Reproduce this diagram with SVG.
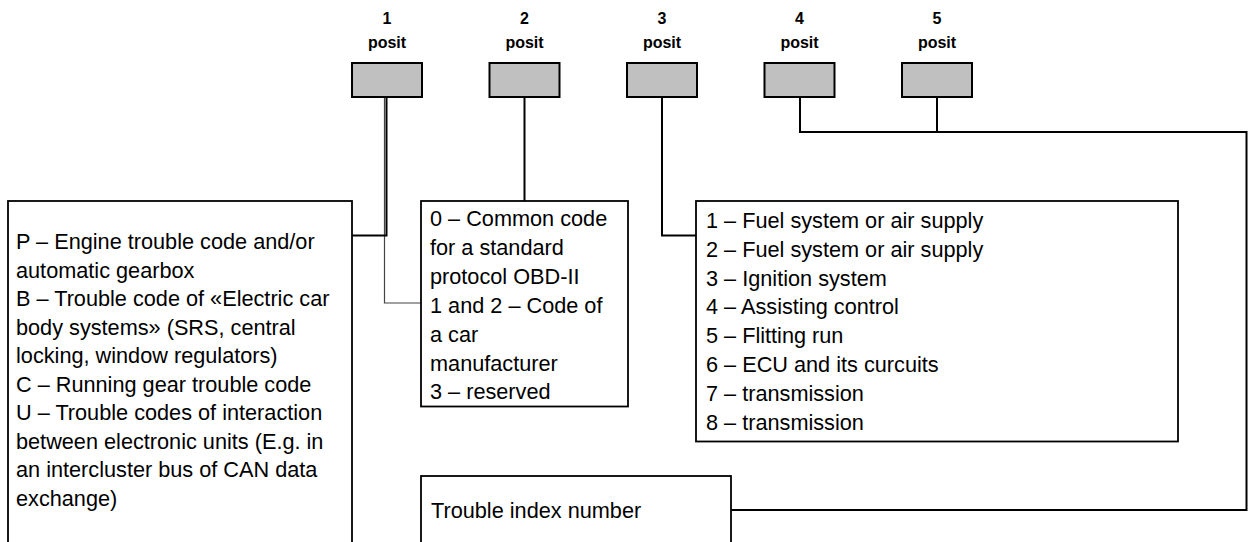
<svg xmlns="http://www.w3.org/2000/svg" width="1252" height="542" viewBox="0 0 1252 542">
<style>
.lbl{font-family:"Liberation Sans",Arial,sans-serif;font-weight:bold;font-size:16px;fill:#000;text-anchor:middle}
.pos{fill:#c0c0c0;stroke:#000;stroke-width:2}
.box{fill:#fff;stroke:#000;stroke-width:1.8}
.t{font-family:"Liberation Sans",Arial,sans-serif;font-size:21.7px;fill:#000}
.c{fill:none;stroke:#000;stroke-width:2}
.thin{fill:none;stroke:#444;stroke-width:1.2}
</style>
<rect width="1252" height="542" fill="#fff"/>
<g id="connectors">
<polyline class="thin" points="384.5,97 384.5,303 421,303"/>
<polyline class="c" points="386.5,97 386.5,235.5 352,235.5"/>
<polyline class="c" points="524.5,97 524.5,201"/>
<polyline class="c" points="662,97 662,235.5 696,235.5"/>
<polyline class="c" points="800,97 800,132 1246.5,132 1246.5,510 731,510"/>
<polyline class="c" points="937,97 937,132"/>
</g>
<g id="pos1"><text class="lbl" x="387" y="24">1</text><text class="lbl" x="387" y="48">posit</text><rect class="pos" x="352" y="63" width="70" height="34"/></g>
<g id="pos2"><text class="lbl" x="524.5" y="24">2</text><text class="lbl" x="524.5" y="48">posit</text><rect class="pos" x="489.5" y="63" width="70" height="34"/></g>
<g id="pos3"><text class="lbl" x="662" y="24">3</text><text class="lbl" x="662" y="48">posit</text><rect class="pos" x="627" y="63" width="70" height="34"/></g>
<g id="pos4"><text class="lbl" x="799.5" y="24">4</text><text class="lbl" x="799.5" y="48">posit</text><rect class="pos" x="764.5" y="63" width="70" height="34"/></g>
<g id="pos5"><text class="lbl" x="937" y="24">5</text><text class="lbl" x="937" y="48">posit</text><rect class="pos" x="902" y="63" width="70" height="34"/></g>
<g id="box-type">
<rect class="box" x="8" y="201" width="344" height="360"/>
<text class="t" x="16" y="249">P – Engine trouble code and/or</text>
<text class="t" x="16" y="277.5">automatic gearbox</text>
<text class="t" x="16" y="306">B – Trouble code of «Electric car</text>
<text class="t" x="16" y="334.5">body systems» (SRS, central</text>
<text class="t" x="16" y="363">locking, window regulators)</text>
<text class="t" x="16" y="391.5">C – Running gear trouble code</text>
<text class="t" x="16" y="420">U – Trouble codes of interaction</text>
<text class="t" x="16" y="448.5">between electronic units (E.g. in</text>
<text class="t" x="16" y="477">an intercluster bus of CAN data</text>
<text class="t" x="16" y="505.5">exchange)</text>
</g>
<g id="box-standard">
<rect class="box" x="421" y="201" width="207" height="205.5"/>
<text class="t" x="430" y="226">0 – Common code</text>
<text class="t" x="430" y="254.9">for a standard</text>
<text class="t" x="430" y="283.8">protocol OBD-II</text>
<text class="t" x="430" y="312.7">1 and 2 – Code of</text>
<text class="t" x="430" y="341.6">a car</text>
<text class="t" x="430" y="370.5">manufacturer</text>
<text class="t" x="430" y="399.4">3 – reserved</text>
</g>
<g id="box-system">
<rect class="box" x="696" y="201" width="482" height="240.5"/>
<text class="t" x="706" y="227.7">1 – Fuel system or air supply</text>
<text class="t" x="706" y="256.6">2 – Fuel system or air supply</text>
<text class="t" x="706" y="285.5">3 – Ignition system</text>
<text class="t" x="706" y="314.4">4 – Assisting control</text>
<text class="t" x="706" y="343.3">5 – Flitting run</text>
<text class="t" x="706" y="372.2">6 – ECU and its curcuits</text>
<text class="t" x="706" y="401.1">7 – transmission</text>
<text class="t" x="706" y="430">8 – transmission</text>
</g>
<g id="box-index">
<rect class="box" x="421" y="476" width="310" height="90"/>
<text class="t" x="431" y="518">Trouble index number</text>
</g>
</svg>
